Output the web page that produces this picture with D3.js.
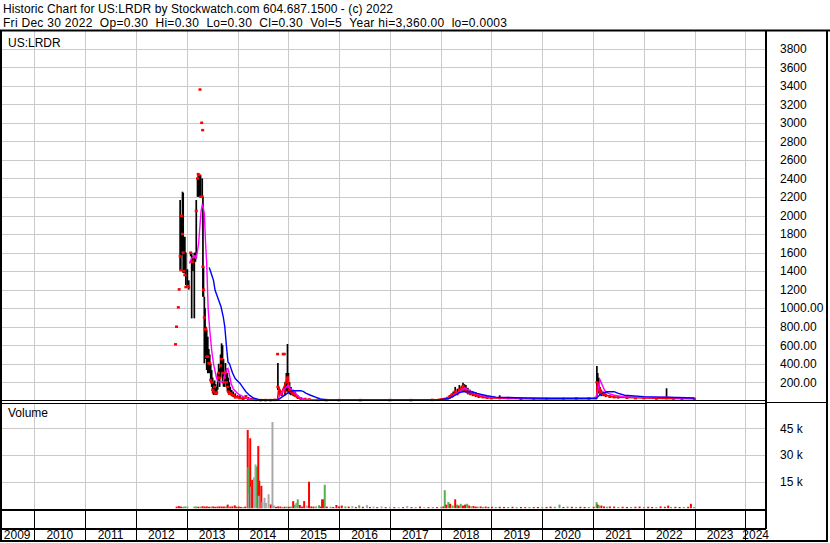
<!DOCTYPE html>
<html>
<head>
<meta charset="utf-8">
<script src="https://cdn.jsdelivr.net/npm/d3@7"></script>
<style>
  body { margin: 0; background: #fff; }
  svg { display: block; font-family: "Liberation Sans", Arial, sans-serif; font-size: 12px; }
</style>
</head>
<body>
<script>
// ---------- DATA ----------
var titleLine1 = "Historic Chart for US:LRDR by Stockwatch.com 604.687.1500 - (c) 2022";
var titleLine2 = "Fri Dec 30 2022  Op=0.30  Hi=0.30  Lo=0.30  Cl=0.30  Vol=5  Year hi=3,360.00  lo=0.0003";
var symbol = "US:LRDR";

var yearLabels = [2009, 2010, 2011, 2012, 2013, 2014, 2015, 2016, 2017, 2018, 2019, 2020, 2021, 2022, 2023, 2024];

var priceTicks = [200, 400, 600, 800, 1000, 1200, 1400, 1600, 1800, 2000, 2200, 2400, 2600, 2800, 3000, 3200, 3400, 3600, 3800];
var priceTickLabels = ["200.00", "400.00", "600.00", "800.00", "1000.00", "1200", "1400", "1600", "1800", "2000",
  "2200", "2400", "2600", "2800", "3000", "3200", "3400", "3600", "3800"];

var volumeTicks = [15000, 30000, 45000];
var volumeTickLabels = ["15 k", "30 k", "45 k"];

// [date, high, low, close]
var priceBars = [
  ["2012-10-12", 610, 610, 610], ["2012-10-19", 800, 800, 800], ["2012-11-01", 1009, 1009, 1009],
  ["2012-11-07", 1203, 1203, 1203], ["2012-11-14", 2167, 1411, 1562], ["2012-11-19", 1800, 1411, 1411],
  ["2012-11-24", 2000, 1560, 1997], ["2012-12-01", 2257, 1592, 1800], ["2012-12-06", 2245, 1380, 1600],
  ["2012-12-12", 1700, 1376, 1400], ["2012-12-18", 1771, 1376, 1357], ["2012-12-25", 1600, 1250, 1228],
  ["2013-01-05", 1420, 1230, 1239], ["2013-01-15", 1300, 1200, 1228], ["2013-01-29", 1609, 1560, 1598],
  ["2013-02-05", 1598, 890, 1500], ["2013-02-14", 1560, 1400, 1500], ["2013-02-24", 1598, 890, 1550],
  ["2013-03-04", 1600, 1500, 1560], ["2013-03-10", 2167, 1537, 2050], ["2013-03-19", 2400, 2202, 2400],
  ["2013-03-24", 2447, 2202, 2447], ["2013-03-31", 2436, 2202, 2436], ["2013-04-06", 3360, 3360, 3360],
  ["2013-04-10", 2436, 2200, 2202], ["2013-04-18", 3001, 3001, 3001], ["2013-04-22", 2400, 2202, 2202],
  ["2013-04-25", 2922, 2922, 2922], ["2013-04-27", 2202, 1123, 1447], ["2013-05-01", 1447, 1123, 1200],
  ["2013-05-07", 1123, 405, 900], ["2013-05-12", 1000, 600, 772], ["2013-05-18", 800, 450, 772],
  ["2013-05-24", 764, 332, 476], ["2013-06-01", 692, 297, 476], ["2013-06-08", 560, 300, 405],
  ["2013-06-15", 500, 297, 405], ["2013-06-22", 400, 200, 224], ["2013-06-29", 330, 150, 200],
  ["2013-07-06", 250, 80, 120], ["2013-07-13", 200, 63, 100], ["2013-07-20", 220, 70, 150],
  ["2013-07-27", 180, 63, 80], ["2013-08-04", 150, 63, 90], ["2013-08-11", 300, 120, 250],
  ["2013-08-18", 400, 200, 300], ["2013-08-25", 350, 150, 250], ["2013-09-01", 500, 250, 380],
  ["2013-09-08", 620, 300, 450], ["2013-09-15", 600, 200, 300], ["2013-09-22", 450, 152, 200],
  ["2013-09-29", 300, 150, 250], ["2013-10-06", 408, 200, 300], ["2013-10-13", 350, 150, 200],
  ["2013-10-20", 300, 100, 150], ["2013-10-27", 250, 80, 100], ["2013-11-03", 200, 63, 80],
  ["2013-11-10", 150, 63, 80], ["2013-11-20", 117, 50, 70], ["2013-12-01", 100, 40, 60],
  ["2013-12-15", 80, 27, 40], ["2014-01-01", 60, 27, 40], ["2014-01-18", 60, 20, 30],
  ["2014-02-10", 40, 10, 20], ["2014-03-02", 60, 20, 50], ["2014-03-20", 40, 10, 20],
  ["2014-04-10", 30, 8, 15], ["2014-05-10", 20, 5, 10], ["2014-06-15", 15, 5, 8],
  ["2014-07-20", 15, 5, 8], ["2014-08-25", 15, 5, 8], ["2014-09-25", 20, 5, 10],
  ["2014-10-16", 505, 505, 505], ["2014-10-18", 408, 117, 150], ["2014-11-01", 120, 60, 80],
  ["2014-11-15", 100, 50, 70], ["2014-11-25", 505, 505, 505], ["2014-12-03", 505, 505, 505],
  ["2014-12-08", 200, 60, 100], ["2014-12-18", 300, 100, 200], ["2014-12-26", 613, 100, 250],
  ["2015-01-02", 300, 80, 150], ["2015-01-10", 200, 70, 120], ["2015-01-20", 150, 60, 100],
  ["2015-02-05", 120, 50, 80], ["2015-02-20", 100, 40, 60], ["2015-03-10", 60, 20, 40],
  ["2015-04-01", 40, 15, 25], ["2015-05-01", 30, 10, 20], ["2015-06-01", 20, 8, 15],
  ["2015-08-01", 15, 5, 10], ["2015-10-01", 12, 5, 8], ["2016-01-01", 10, 5, 8],
  ["2016-06-01", 10, 5, 8], ["2017-01-01", 10, 5, 8], ["2017-06-01", 10, 5, 8],
  ["2017-11-01", 15, 5, 10], ["2018-02-01", 20, 10, 15], ["2018-02-20", 40, 15, 30],
  ["2018-03-05", 60, 20, 40], ["2018-03-20", 80, 30, 60], ["2018-04-01", 100, 40, 70],
  ["2018-04-15", 150, 60, 100], ["2018-05-01", 130, 60, 80], ["2018-05-15", 170, 80, 120],
  ["2018-06-01", 160, 100, 140], ["2018-06-10", 195, 110, 160], ["2018-06-20", 180, 100, 140],
  ["2018-07-01", 170, 90, 110], ["2018-07-15", 140, 70, 90], ["2018-08-01", 120, 60, 80],
  ["2018-08-20", 100, 50, 70], ["2018-09-10", 90, 40, 60], ["2018-10-01", 70, 30, 50],
  ["2018-11-01", 60, 30, 40], ["2018-12-01", 50, 20, 35], ["2019-01-01", 40, 20, 30],
  ["2019-03-01", 60, 20, 30], ["2019-05-01", 40, 20, 30], ["2019-08-01", 30, 15, 20],
  ["2019-11-01", 30, 15, 20], ["2020-02-01", 30, 15, 20], ["2020-06-01", 30, 15, 20],
  ["2020-09-01", 30, 15, 25], ["2020-12-01", 30, 15, 25], ["2021-01-20", 40, 20, 30],
  ["2021-01-28", 375, 30, 200], ["2021-02-03", 300, 100, 150], ["2021-02-10", 250, 80, 120],
  ["2021-02-20", 150, 60, 90], ["2021-03-01", 120, 50, 80], ["2021-03-15", 100, 50, 70],
  ["2021-04-01", 80, 40, 60], ["2021-05-01", 60, 30, 45], ["2021-06-01", 55, 30, 40],
  ["2021-07-01", 50, 25, 40], ["2021-09-01", 45, 20, 35], ["2021-11-01", 40, 20, 30],
  ["2022-01-01", 40, 20, 30], ["2022-04-01", 35, 20, 25], ["2022-06-13", 135, 20, 30],
  ["2022-08-01", 35, 20, 25], ["2022-10-01", 35, 15, 25], ["2022-12-30", 30, 15, 22]
];

// magenta moving average
var maFast = [
  ["2013-01-19", 1483], ["2013-02-05", 1540], ["2013-02-24", 1562], ["2013-03-08", 1537], ["2013-03-17", 1600],
  ["2013-03-27", 1700], ["2013-04-06", 1900], ["2013-04-14", 2050], ["2013-04-22", 2113], ["2013-04-29", 2090],
  ["2013-05-07", 2020], ["2013-05-16", 1700], ["2013-05-24", 1480], ["2013-06-04", 980], ["2013-06-15", 764],
  ["2013-06-22", 650], ["2013-07-01", 520], ["2013-07-12", 400], ["2013-07-23", 320], ["2013-08-02", 250],
  ["2013-08-13", 210], ["2013-09-01", 200], ["2013-09-20", 210], ["2013-10-01", 280], ["2013-10-15", 340],
  ["2013-10-24", 350], ["2013-11-04", 280], ["2013-11-15", 190], ["2013-12-01", 130], ["2014-01-01", 80],
  ["2014-01-18", 63], ["2014-02-16", 40], ["2014-03-31", 16], ["2014-06-01", 10], ["2014-09-01", 8],
  ["2014-10-18", 12], ["2014-11-01", 60], ["2014-11-15", 90], ["2014-12-01", 120], ["2014-12-15", 140],
  ["2014-12-28", 170], ["2015-01-10", 140], ["2015-01-25", 120], ["2015-02-10", 100], ["2015-03-01", 70],
  ["2015-03-20", 40], ["2015-04-15", 20], ["2015-06-01", 12], ["2016-01-01", 10], ["2017-01-01", 10],
  ["2017-12-01", 10], ["2018-02-01", 15], ["2018-03-15", 40], ["2018-04-15", 70], ["2018-05-15", 100],
  ["2018-06-10", 125], ["2018-06-25", 135], ["2018-07-15", 120], ["2018-08-10", 100], ["2018-09-10", 80],
  ["2018-10-15", 60], ["2018-12-01", 45], ["2019-02-01", 35], ["2019-06-01", 30], ["2020-01-01", 25],
  ["2020-09-01", 25], ["2021-01-20", 28], ["2021-02-05", 120], ["2021-02-20", 225], ["2021-03-05", 180],
  ["2021-03-25", 110], ["2021-04-20", 80], ["2021-06-01", 60], ["2021-08-01", 45], ["2021-11-01", 40],
  ["2022-03-01", 35], ["2022-06-15", 40], ["2022-09-01", 30], ["2022-12-30", 28]
];

// blue moving average
var maSlow = [
  ["2013-06-11", 1440], ["2013-06-20", 1400], ["2013-07-01", 1350], ["2013-07-12", 1300], ["2013-07-23", 1195],
  ["2013-08-13", 1106], ["2013-09-04", 1015], ["2013-09-20", 907], ["2013-10-01", 800], ["2013-10-15", 560],
  ["2013-10-24", 420], ["2013-11-04", 400], ["2013-11-26", 300], ["2013-12-15", 240], ["2014-01-01", 215],
  ["2014-01-18", 190], ["2014-02-10", 140], ["2014-03-02", 98], ["2014-03-31", 55], ["2014-04-29", 27],
  ["2014-06-01", 15], ["2014-08-01", 10], ["2014-10-20", 10], ["2014-11-15", 40], ["2014-12-15", 70],
  ["2015-01-10", 100], ["2015-02-05", 109], ["2015-03-10", 110], ["2015-04-01", 109], ["2015-04-20", 100],
  ["2015-05-10", 81], ["2015-06-10", 60], ["2015-07-15", 40], ["2015-08-20", 20], ["2015-10-01", 12],
  ["2016-06-01", 10], ["2017-06-01", 10], ["2017-12-15", 10], ["2018-03-01", 25], ["2018-04-15", 60],
  ["2018-05-15", 90], ["2018-06-10", 98], ["2018-07-20", 100], ["2018-08-20", 95], ["2018-09-20", 80],
  ["2018-10-20", 70], ["2018-12-01", 55], ["2019-02-01", 40], ["2019-05-01", 35], ["2019-09-01", 30],
  ["2020-03-01", 28], ["2020-10-01", 28], ["2021-01-25", 28], ["2021-02-15", 60], ["2021-03-15", 85],
  ["2021-04-15", 98], ["2021-06-01", 98], ["2021-07-01", 80], ["2021-08-15", 60], ["2021-10-01", 55],
  ["2022-01-01", 45], ["2022-05-01", 40], ["2022-09-01", 35], ["2022-12-30", 30]
];

// red short moving average
var maShort = [
  ["2014-01-01", 40], ["2014-02-01", 25], ["2014-03-01", 30], ["2014-04-01", 15], ["2014-06-01", 8],
  ["2014-09-01", 8], ["2014-10-15", 10], ["2014-10-25", 150], ["2014-11-10", 80], ["2014-12-01", 150],
  ["2014-12-28", 250], ["2015-01-10", 130], ["2015-02-01", 80], ["2015-03-01", 40], ["2015-04-01", 20],
  ["2015-06-01", 12], ["2016-01-01", 8], ["2017-01-01", 8], ["2017-12-01", 10], ["2018-02-15", 30],
  ["2018-04-01", 70], ["2018-05-01", 90], ["2018-06-10", 150], ["2018-07-01", 110], ["2018-08-01", 80],
  ["2018-09-15", 55], ["2018-11-01", 40], ["2019-01-01", 30], ["2019-06-01", 25], ["2020-01-01", 20],
  ["2020-12-01", 22], ["2021-01-25", 25], ["2021-02-01", 200], ["2021-02-15", 150], ["2021-03-01", 100],
  ["2021-04-01", 60], ["2021-06-01", 40], ["2021-09-01", 35], ["2022-01-01", 30], ["2022-06-01", 25],
  ["2022-12-30", 22]
];

// [date, volume, direction: u = up, d = down, n = unchanged]
var volumeBars = [
  ["2012-10-20", 900, "d"], ["2012-11-05", 1200, "d"], ["2012-11-20", 900, "d"], ["2012-12-05", 800, "u"],
  ["2012-12-20", 1000, "u"], ["2013-01-05", 900, "u"], ["2013-02-25", 900, "u"], ["2013-03-10", 1000, "u"],
  ["2013-03-25", 800, "d"], ["2013-04-10", 900, "u"], ["2013-04-25", 1100, "d"], ["2013-05-10", 900, "d"],
  ["2013-05-25", 1000, "d"], ["2013-06-10", 800, "d"], ["2013-06-25", 900, "u"], ["2013-07-10", 1000, "d"],
  ["2013-07-25", 800, "d"], ["2013-08-10", 900, "d"], ["2013-08-25", 1000, "d"], ["2013-09-10", 900, "d"],
  ["2013-09-25", 900, "d"], ["2013-10-10", 900, "u"], ["2013-10-22", 2000, "d"], ["2013-11-10", 900, "d"],
  ["2013-11-25", 1000, "d"], ["2013-12-12", 1600, "d"], ["2013-12-25", 800, "d"], ["2014-01-10", 900, "d"],
  ["2014-01-25", 700, "d"], ["2014-02-10", 600, "u"], ["2014-02-25", 900, "d"],
  ["2014-03-15", 44100, "d"], ["2014-03-19", 23100, "u"], ["2014-03-26", 8000, "n"], ["2014-04-02", 39400, "d"],
  ["2014-04-09", 12000, "n"], ["2014-04-16", 16000, "d"], ["2014-04-29", 17400, "n"], ["2014-05-10", 24650, "n"],
  ["2014-05-20", 23500, "u"], ["2014-05-30", 35000, "d"], ["2014-06-06", 15500, "d"], ["2014-06-02", 7000, "n"],
  ["2014-06-21", 12600, "d"], ["2014-06-28", 3500, "n"], ["2014-07-14", 5900, "n"], ["2014-07-24", 3000, "n"],
  ["2014-08-12", 7850, "n"], ["2014-08-28", 2100, "d"], ["2014-09-09", 48550, "n"], ["2014-09-20", 1500, "n"],
  ["2014-10-05", 800, "d"], ["2014-10-20", 1000, "d"], ["2014-11-05", 900, "d"], ["2014-11-20", 700, "u"],
  ["2014-12-05", 800, "d"], ["2014-12-20", 900, "u"], ["2015-01-05", 800, "d"], ["2015-01-20", 900, "u"],
  ["2015-02-05", 4000, "d"], ["2015-02-18", 2000, "u"], ["2015-02-28", 3000, "n"], ["2015-03-10", 5000, "u"],
  ["2015-03-25", 1800, "d"], ["2015-04-10", 900, "d"], ["2015-04-25", 4000, "d"], ["2015-05-15", 1500, "n"],
  ["2015-05-30", 14900, "d"], ["2015-06-15", 1000, "d"], ["2015-07-01", 900, "d"], ["2015-07-20", 1000, "u"],
  ["2015-08-10", 1700, "u"], ["2015-08-22", 900, "d"], ["2015-09-01", 5000, "d"], ["2015-09-14", 5000, "d"],
  ["2015-09-20", 13200, "u"], ["2015-10-05", 900, "d"], ["2015-11-01", 800, "u"], ["2015-11-20", 700, "d"],
  ["2015-12-13", 1800, "d"], ["2016-01-01", 1000, "d"], ["2016-01-20", 1500, "d"], ["2016-02-15", 1000, "u"],
  ["2016-03-10", 900, "d"], ["2016-04-05", 1200, "n"], ["2016-05-01", 700, "d"], ["2016-05-25", 1700, "u"],
  ["2016-06-20", 800, "d"], ["2016-07-20", 1700, "n"], ["2016-08-10", 700, "d"], ["2016-09-05", 900, "n"],
  ["2016-10-01", 600, "d"], ["2016-11-01", 1000, "n"], ["2016-12-01", 600, "d"], ["2017-01-01", 800, "n"],
  ["2017-02-01", 600, "d"], ["2017-03-05", 600, "n"], ["2017-04-05", 600, "d"], ["2017-05-05", 1200, "n"],
  ["2017-06-05", 600, "d"], ["2017-07-05", 600, "u"], ["2017-08-05", 900, "d"], ["2017-09-05", 600, "n"],
  ["2017-10-05", 600, "d"], ["2017-11-05", 600, "u"], ["2017-12-05", 600, "d"], ["2018-01-05", 800, "u"],
  ["2018-01-20", 1000, "d"], ["2018-01-30", 10150, "u"], ["2018-02-10", 2000, "d"], ["2018-02-25", 3500, "u"],
  ["2018-03-10", 2500, "d"], ["2018-03-28", 1500, "u"], ["2018-04-15", 5000, "d"], ["2018-04-28", 2000, "u"],
  ["2018-05-10", 1500, "d"], ["2018-05-25", 2500, "u"], ["2018-06-10", 1500, "d"], ["2018-06-25", 2000, "d"],
  ["2018-07-10", 2500, "u"], ["2018-07-25", 1500, "d"], ["2018-08-10", 1000, "u"], ["2018-08-25", 1200, "d"],
  ["2018-09-10", 900, "d"], ["2018-09-25", 800, "u"], ["2018-10-15", 1000, "d"], ["2018-11-01", 700, "u"],
  ["2018-11-20", 900, "d"], ["2018-12-10", 700, "d"], ["2019-01-05", 800, "d"], ["2019-02-01", 700, "u"],
  ["2019-03-01", 800, "d"], ["2019-04-01", 700, "d"], ["2019-05-01", 700, "u"], ["2019-06-01", 800, "d"],
  ["2019-07-01", 600, "u"], ["2019-08-01", 700, "d"], ["2019-09-01", 600, "d"], ["2019-10-01", 700, "u"],
  ["2019-11-01", 600, "d"], ["2019-12-01", 700, "d"], ["2020-01-01", 600, "u"], ["2020-02-01", 700, "d"],
  ["2020-03-01", 900, "d"], ["2020-04-01", 800, "u"], ["2020-05-04", 2000, "u"], ["2020-06-01", 700, "d"],
  ["2020-07-01", 900, "u"], ["2020-08-01", 800, "d"], ["2020-09-01", 700, "u"], ["2020-10-01", 800, "d"],
  ["2020-11-01", 700, "d"], ["2020-12-01", 700, "u"], ["2021-01-05", 800, "d"], ["2021-01-26", 3400, "u"],
  ["2021-02-03", 2000, "d"], ["2021-02-12", 1500, "u"], ["2021-03-01", 1500, "d"], ["2021-03-20", 1000, "d"],
  ["2021-04-10", 800, "u"], ["2021-05-01", 1000, "d"], ["2021-06-01", 900, "d"], ["2021-07-01", 700, "u"],
  ["2021-08-01", 800, "d"], ["2021-09-01", 700, "d"], ["2021-10-01", 700, "u"], ["2021-11-01", 800, "d"],
  ["2021-12-01", 900, "d"], ["2022-01-01", 700, "u"], ["2022-02-01", 800, "d"], ["2022-03-01", 700, "d"],
  ["2022-04-01", 600, "u"], ["2022-05-01", 1000, "d"], ["2022-06-01", 800, "d"], ["2022-06-25", 1500, "d"],
  ["2022-07-15", 700, "u"], ["2022-08-15", 800, "d"], ["2022-09-15", 700, "d"], ["2022-10-15", 700, "u"],
  ["2022-11-15", 800, "d"], ["2022-12-05", 2470, "d"], ["2022-12-28", 600, "u"]
];

// ---------- LAYOUT ----------
var width = 830, height = 543;
var plotRight = 766;
var priceTop = 31, priceBottom = 401;
var volTop = 403.5, volBottom = 509.5;
var bandTop = 510, bandMid = 529, bandBottom = 541;

var parse = d3.timeParse("%Y-%m-%d");
var volColors = { u: "#55b04f", d: "#ff0000", n: "#a9a9a9" };

// keep the double spaces of the header line visible
function keepSpaces(s) { return s.replace(/  /g, " \u00a0"); }

var svg = d3.select("body").append("svg")
  .attr("width", width)
  .attr("height", height);

svg.append("rect").attr("width", width).attr("height", height).attr("fill", "#fff");

// scales
var x = d3.scaleTime()
  .domain([parse("2010-01-01"), parse("2024-01-01")])
  .range([34.4, 745.4]);
var y = d3.scaleLinear().domain([0, 4000]).range([400.8, 30.2]);
var yv = d3.scaleLinear().domain([0, 45000]).range([508.2, 428.3]);

var yearDates = d3.range(2010, 2025).map(function(yr) { return new Date(yr, 0, 1); });

// ---------- GRID ----------
var grid = svg.append("g").attr("stroke", "#cacaca").attr("stroke-width", 1);
yearDates.forEach(function(d) {
  var xx = Math.round(x(d)) + 0.5;
  grid.append("line").attr("x1", xx).attr("x2", xx).attr("y1", priceTop).attr("y2", priceBottom);
  grid.append("line").attr("x1", xx).attr("x2", xx).attr("y1", volTop).attr("y2", volBottom);
});
priceTicks.forEach(function(t) {
  var yy = Math.round(y(t)) + 0.5;
  grid.append("line").attr("x1", 0).attr("x2", plotRight).attr("y1", yy).attr("y2", yy);
});
volumeTicks.forEach(function(t) {
  var yy = Math.round(yv(t)) + 0.5;
  grid.append("line").attr("x1", 0).attr("x2", plotRight).attr("y1", yy).attr("y2", yy);
});

// ---------- PRICE PANEL ----------
var price = svg.append("g");
var bars = priceBars.map(function(d) { return { date: parse(d[0]), hi: d[1], lo: d[2], cl: d[3] }; });

price.selectAll(".hl")
  .data(bars.filter(function(d) { return d.hi > d.lo; }))
  .enter().append("line")
    .attr("class", "hl")
    .attr("x1", function(d) { return x(d.date); })
    .attr("x2", function(d) { return x(d.date); })
    .attr("y1", function(d) { return y(d.hi); })
    .attr("y2", function(d) { return y(d.lo); })
    .attr("stroke", "#000")
    .attr("stroke-width", 1.7);

price.selectAll(".cl")
  .data(bars)
  .enter().append("rect")
    .attr("class", "cl")
    .attr("x", function(d) { return x(d.date) - 1.5; })
    .attr("y", function(d) { return y(d.cl) - 1.2; })
    .attr("width", 3)
    .attr("height", 2.5)
    .attr("fill", "#ff0000");

var line = d3.line()
  .x(function(d) { return x(parse(d[0])); })
  .y(function(d) { return y(d[1]); });

price.append("path").datum(maShort).attr("d", line)
  .attr("fill", "none").attr("stroke", "#ff0000").attr("stroke-width", 1.6);
price.append("path").datum(maFast).attr("d", line)
  .attr("fill", "none").attr("stroke", "#ff00ff").attr("stroke-width", 1.4);
price.append("path").datum(maSlow).attr("d", line)
  .attr("fill", "none").attr("stroke", "#0000ff").attr("stroke-width", 1.4);

// price axis (right)
var priceAxis = d3.axisRight(y)
  .tickValues(priceTicks)
  .tickSize(0)
  .tickPadding(14)
  .tickFormat(function(d, i) { return priceTickLabels[i]; });
var pa = svg.append("g").attr("transform", "translate(" + plotRight + ",0)").call(priceAxis);
pa.select(".domain").remove();
pa.selectAll("text").attr("font-size", 12).attr("font-family", "Liberation Sans, Arial, sans-serif").attr("fill", "#000");

// ---------- VOLUME PANEL ----------
var vol = svg.append("g");
vol.selectAll(".vb")
  .data(volumeBars)
  .enter().append("rect")
    .attr("class", "vb")
    .attr("x", function(d) { return x(parse(d[0])) - 1; })
    .attr("y", function(d) { return yv(d[1]); })
    .attr("width", 2)
    .attr("height", function(d) { return Math.max(1, yv(0) - yv(d[1])); })
    .attr("fill", function(d) { return volColors[d[2]]; });

var volAxis = d3.axisRight(yv)
  .tickValues(volumeTicks)
  .tickSize(0)
  .tickPadding(14)
  .tickFormat(function(d, i) { return volumeTickLabels[i]; });
var va = svg.append("g").attr("transform", "translate(" + plotRight + ",0)").call(volAxis);
va.select(".domain").remove();
va.selectAll("text").attr("font-size", 12).attr("font-family", "Liberation Sans, Arial, sans-serif").attr("fill", "#000");

// ---------- FRAME ----------
var frame = svg.append("g").attr("stroke", "#000");
frame.append("line").attr("x1", 0).attr("x2", width).attr("y1", 30.5).attr("y2", 30.5).attr("stroke-width", 2);
frame.append("line").attr("x1", 1).attr("x2", 1).attr("y1", 30).attr("y2", bandBottom + 1).attr("stroke-width", 2);
frame.append("line").attr("x1", 827).attr("x2", 827).attr("y1", 30).attr("y2", bandBottom + 1).attr("stroke-width", 2);
frame.append("line").attr("x1", 0).attr("x2", 828).attr("y1", bandBottom).attr("y2", bandBottom).attr("stroke-width", 2);
frame.append("line").attr("x1", plotRight).attr("x2", plotRight).attr("y1", 30).attr("y2", bandMid).attr("stroke-width", 2);
frame.append("line").attr("x1", 0).attr("x2", plotRight).attr("y1", 400.5).attr("y2", 400.5).attr("stroke-width", 1.2);
frame.append("line").attr("x1", 0).attr("x2", plotRight).attr("y1", 403.5).attr("y2", 403.5).attr("stroke-width", 1.2);
frame.append("line").attr("x1", plotRight).attr("x2", 828).attr("y1", 402.5).attr("y2", 402.5).attr("stroke-width", 1.2);
frame.append("line").attr("x1", 0).attr("x2", plotRight).attr("y1", volBottom + 0.5).attr("y2", volBottom + 0.5).attr("stroke-width", 2);
frame.append("line").attr("x1", 0).attr("x2", plotRight).attr("y1", bandMid).attr("y2", bandMid).attr("stroke-width", 2);

// year separators in the bottom band
yearDates.forEach(function(d) {
  var xx = Math.round(x(d)) + 0.5;
  frame.append("line").attr("x1", xx).attr("x2", xx).attr("y1", bandTop).attr("y2", bandBottom).attr("stroke-width", 1);
});

// year labels, centred in each year cell
svg.append("g").selectAll("text")
  .data(yearLabels)
  .enter().append("text")
    .attr("x", function(yr) {
      var a = Math.max(0, x(new Date(yr, 0, 1)));
      var b = Math.min(plotRight, x(new Date(yr + 1, 0, 1)));
      return (a + b) / 2;
    })
    .attr("y", 539)
    .attr("text-anchor", "middle")
    .attr("fill", "#000")
    .text(function(d) { return d; });

// ---------- TEXTS ----------
// header lines are stretched a little to the width the original renderer gave them
svg.append("text").attr("x", 3).attr("y", 12.5).attr("fill", "#000")
  .attr("textLength", 390).attr("lengthAdjust", "spacing")
  .text(keepSpaces(titleLine1));
svg.append("text").attr("x", 3).attr("y", 26.5).attr("fill", "#000")
  .attr("textLength", 504).attr("lengthAdjust", "spacing")
  .text(keepSpaces(titleLine2));
svg.append("text").attr("x", 8).attr("y", 47).attr("fill", "#000").text(symbol);
svg.append("text").attr("x", 8).attr("y", 417).attr("fill", "#000").text("Volume");
</script>
</body>
</html>
